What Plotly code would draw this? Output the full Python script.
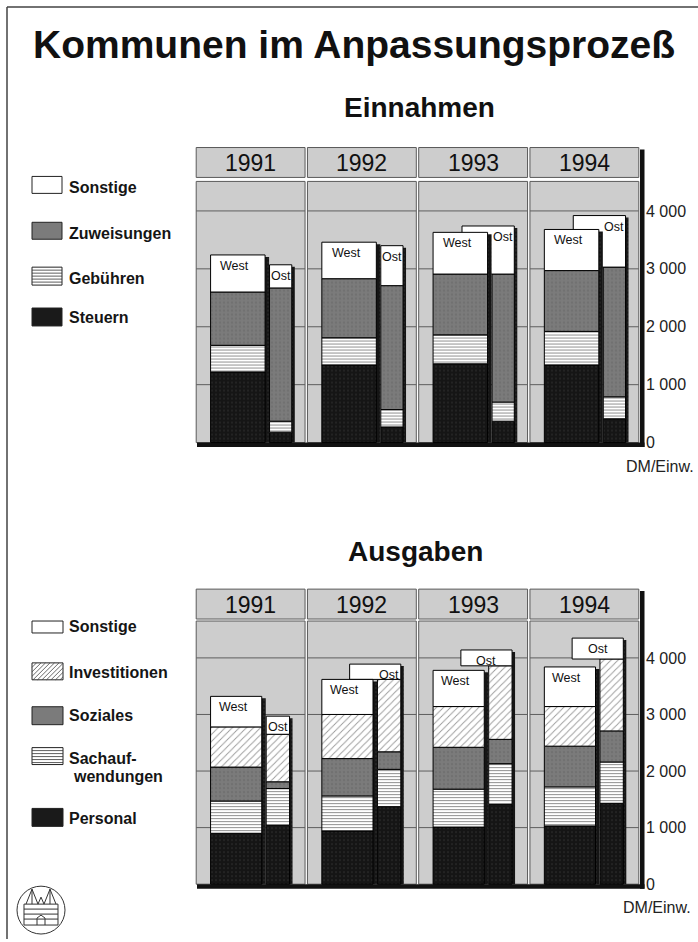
import plotly.graph_objects as go

W, H = 698, 942
FONT = "Liberation Sans, Arial, Helvetica, sans-serif"

# ---------------- data (DM je Einwohner) ----------------
years = ["1991", "1992", "1993", "1994"]
tick_vals = [0, 1000, 2000, 3000, 4000]
tick_text = ["0", "1 000", "2 000", "3 000", "4 000"]
unit_label = "DM/Einw."

# Einnahmen
ein_labels = ["Steuern", "Gebühren", "Zuweisungen", "Sonstige"]
ein_west_steuern = [1220, 1340, 1360, 1340]
ein_west_gebuehren = [460, 470, 500, 580]
ein_west_zuweisungen = [920, 1020, 1050, 1050]
ein_west_sonstige = [640, 630, 720, 710]
ein_ost_steuern = [180, 270, 370, 410]
ein_ost_gebuehren = [190, 300, 330, 380]
ein_ost_zuweisungen = [2300, 2140, 2210, 2240]
ein_ost_sonstige = [400, 690, 830, 890]

# Ausgaben
aus_labels = ["Personal", "Sachauf-\nwendungen", "Soziales", "Investitionen", "Sonstige"]
aus_west_personal = [900, 940, 1010, 1030]
aus_west_sachauf = [570, 620, 670, 690]
aus_west_soziales = [600, 660, 740, 720]
aus_west_invest = [710, 780, 720, 700]
aus_west_sonstige = [540, 620, 640, 700]
aus_ost_personal = [1040, 1370, 1410, 1430]
aus_ost_sachauf = [650, 660, 720, 730]
aus_ost_soziales = [120, 310, 430, 550]
aus_ost_invest = [840, 1280, 1300, 1270]
aus_ost_sonstige = [320, 270, 280, 370]

# ---------------- styles ----------------
PANEL = "#cdcdcd"
EDGE = "#5a5a5a"
GRID = "#5e5e5e"

STYLE = {
    "black": dict(color="#151515",
                  pattern=dict(shape=".", fgcolor="#3a3a3a", bgcolor="#151515", size=4, solidity=0.2)),
    "gray": dict(color="#7b7b7b",
                 pattern=dict(shape=".", fgcolor="#666666", bgcolor="#7b7b7b", size=4, solidity=0.3)),
    "lines": dict(color="#ffffff",
                  pattern=dict(shape="-", fgcolor="#222222", bgcolor="#ffffff", size=3, solidity=0.35)),
    "hatch": dict(color="#ffffff",
                  pattern=dict(shape="/", fgcolor="#333333", bgcolor="#ffffff", size=5, solidity=0.18)),
    "white": dict(color="#ffffff"),
}
ein_styles = ["black", "lines", "gray", "white"]
aus_styles = ["black", "lines", "gray", "hatch", "white"]

X0, PW = 195.0, 111.25  # pixel left of first panel, pixel width of a panel

fig = go.Figure()
shapes = []
annotations = []


def px(x):
    return x / W


def py(y):
    return 1 - y / H


def add_chart(g, west_comps, ost_comps, styles):
    xa, ya = g["xa"], g["ya"]
    n = len(years)
    zero, k = g["zero"], g["per1000"]

    def u(p):
        return p / k * 1000.0

    def dxp(p):
        return p / PW

    # panels, headers, grid lines
    for i in range(n):
        x0, x1 = i + dxp(1.2), i + 1 - dxp(1.2)
        shapes.append(dict(type="rect", xref=xa, yref=ya, x0=x0, x1=x1, y0=0,
                           y1=u(zero - g["panel_top"]), fillcolor=PANEL,
                           line=dict(color=EDGE, width=1), layer="below"))
        shapes.append(dict(type="rect", xref=xa, yref=ya, x0=x0, x1=x1,
                           y0=u(zero - g["header_bottom"]), y1=u(zero - g["header_top"]),
                           fillcolor=PANEL, line=dict(color=EDGE, width=1), layer="below"))
        for v in tick_vals[1:]:
            shapes.append(dict(type="line", xref=xa, yref=ya, x0=x0, x1=x1, y0=v, y1=v,
                               line=dict(color=GRID, width=1), layer="below"))
        annotations.append(dict(xref=xa, yref=ya, x=i + 0.5,
                                y=u(zero - (g["header_top"] + g["header_bottom"]) / 2 - 1),
                                text=years[i], showarrow=False,
                                font=dict(family=FONT, size=23, color="#111")))
    # black drop-shadow strips
    shapes.append(dict(type="rect", xref=xa, yref=ya, x0=4, x1=4 + dxp(4.5),
                       y0=u(-4.5), y1=u(zero - g["header_top"] - 2),
                       fillcolor="#111", line=dict(width=0), layer="below"))
    shapes.append(dict(type="rect", xref=xa, yref=ya, x0=dxp(2), x1=4 + dxp(4.5),
                       y0=u(-4.5), y1=0, fillcolor="#111", line=dict(width=0), layer="below"))

    def cumulate(comps):
        bases, acc = [], [0] * n
        for c in comps:
            bases.append(acc[:])
            acc = [a + b for a, b in zip(acc, c)]
        return bases, acc

    wb, wt = cumulate(west_comps)
    ob, ot = cumulate(ost_comps)
    wc, ww, oc, ow, wl = g["west_c"], g["west_w"], g["ost_c"], g["ost_w"], g["wide_left"]
    R = oc + ow / 2
    wide = [ot[i] > wt[i] for i in range(n)]

    def bar(xs, base, ys, width, style, line=True):
        st = STYLE[style]
        marker = dict(color=st["color"], opacity=1,
                      line=dict(color="#000", width=1 if line else 0))
        if "pattern" in st:
            marker["pattern"] = st["pattern"]
        fig.add_trace(go.Bar(x=xs, y=ys, base=base, width=width, marker=marker,
                             xaxis=xa, yaxis=ya, showlegend=False, hoverinfo="skip"))

    # Ost: shadow, then segments
    bar([i + oc + dxp(3) for i in range(n)], [0] * n, [t - u(2) for t in ot], ow, "black", line=False)
    for s, comps in enumerate(ost_comps):
        if s == len(ost_comps) - 1:
            xs = [i + ((wl + R) / 2 if wide[i] else oc) for i in range(n)]
            widths = [(R - wl) if wide[i] else ow for i in range(n)]
        else:
            xs = [i + oc for i in range(n)]
            widths = ow
        bar(xs, ob[s], comps, widths, styles[s])
    # West: shadow, then segments
    bar([i + wc + dxp(4) for i in range(n)], [0] * n, [t - u(2) for t in wt], ww, "black", line=False)
    for s, comps in enumerate(west_comps):
        bar([i + wc for i in range(n)], wb[s], comps, ww, styles[s])

    # region labels
    lab_font = dict(family=FONT, size=12.5, color="#111")
    for i in range(n):
        annotations.append(dict(xref=xa, yref=ya, x=i + wc - dxp(3), y=wt[i], yanchor="top",
                                yshift=-2, text="West", showarrow=False, font=lab_font))
        if wide[i] and (ot[i] - wt[i]) < u(20):
            xo = ((wc + ww / 2 + dxp(4)) + R) / 2
        elif wide[i]:
            xo = (wl + R) / 2
        else:
            xo = oc
        annotations.append(dict(xref=xa, yref=ya, x=i + xo, y=ot[i], yanchor="top",
                                yshift=-2, text="Ost", showarrow=False, font=lab_font))

    dom_y = [py(zero + 6), py(g["header_top"] - 3)]
    return dict(
        x=dict(domain=[px(190), px(645)], range=[(190 - X0) / PW, (645 - X0) / PW],
               visible=False),
        y=dict(domain=dom_y, range=[-u(6), u(zero - g["header_top"] + 3)], anchor=xa,
               side="right", tickvals=tick_vals, ticktext=tick_text, showgrid=False,
               zeroline=False, showline=False, ticks="", ticklen=0,
               tickfont=dict(family=FONT, size=16, color="#222")),
    )


upper = dict(xa="x", ya="y", zero=444, per1000=58.1, header_top=148, header_bottom=178,
             panel_top=182, west_c=0.385, west_w=0.49, ost_c=0.77, ost_w=0.20, wide_left=0.40)
lower = dict(xa="x2", ya="y2", zero=887, per1000=56.75, header_top=591, header_bottom=621,
             panel_top=623, west_c=0.37, west_w=0.46, ost_c=0.745, ost_w=0.21, wide_left=0.39)

ax1 = add_chart(upper,
                [ein_west_steuern, ein_west_gebuehren, ein_west_zuweisungen, ein_west_sonstige],
                [ein_ost_steuern, ein_ost_gebuehren, ein_ost_zuweisungen, ein_ost_sonstige],
                ein_styles)
ax2 = add_chart(lower,
                [aus_west_personal, aus_west_sachauf, aus_west_soziales, aus_west_invest, aus_west_sonstige],
                [aus_ost_personal, aus_ost_sachauf, aus_ost_soziales, aus_ost_invest, aus_ost_sonstige],
                aus_styles)
ax1["x"]["anchor"] = "y"
ax2["x"]["anchor"] = "y2"

# ---------------- legends (drawn swatches + real text) ----------------
def rect_px(x0, y0, x1, y1, fill):
    shapes.append(dict(type="rect", xref="paper", yref="paper", x0=px(x0), x1=px(x1),
                       y0=py(y1), y1=py(y0), fillcolor=fill, line=dict(color="#222", width=1)))


def path_px(segs, color="#222", width=1):
    d = " ".join("M%.5f,%.5f L%.5f,%.5f" % (px(a), py(b), px(c), py(e)) for a, b, c, e in segs)
    shapes.append(dict(type="path", xref="paper", yref="paper", path=d,
                       line=dict(color=color, width=width)))


def swatch(style, x0, y0, x1, y1):
    if style == "black":
        rect_px(x0, y0, x1, y1, "#1a1a1a")
    elif style == "gray":
        rect_px(x0, y0, x1, y1, "#7b7b7b")
    elif style == "white":
        rect_px(x0, y0, x1, y1, "#ffffff")
    elif style == "lines":
        rect_px(x0, y0, x1, y1, "#ffffff")
        segs = []
        yy = y0 + 3
        while yy < y1 - 1:
            segs.append((x0, yy, x1, yy))
            yy += 3
        path_px(segs, "#333", 0.8)
    elif style == "hatch":
        rect_px(x0, y0, x1, y1, "#ffffff")
        h = y1 - y0
        segs = []
        t = x0 - h
        while t < x1:
            sx, sy = t, y1
            ex, ey = t + h, y0
            if sx < x0:
                sy = y1 - (x0 - sx)
                sx = x0
            if ex > x1:
                ey = y0 + (ex - x1)
                ex = x1
            if ex > sx:
                segs.append((sx, sy, ex, ey))
            t += 4.5
        path_px(segs, "#444", 0.8)


LEG_FONT = dict(family=FONT, size=16, color="#151515")
ein_legend = [("white", (177, 194), 188), ("gray", (223, 240), 234),
              ("lines", (268, 286), 279), ("black", (309, 327), 319)]
ein_leg_names = ein_labels[::-1]
for (st, (a, b), ty), name in zip(ein_legend, ein_leg_names):
    swatch(st, 32, a, 62, b)
    annotations.append(dict(xref="paper", yref="paper", x=px(67), y=py(ty), xanchor="left",
                            yanchor="middle", text="<b>%s</b>" % name, showarrow=False,
                            font=LEG_FONT))

aus_legend = [("white", (623, 635), [628]), ("hatch", (665, 682), [675]),
              ("gray", (709, 727), [718]), ("lines", (750, 767), [761, 779]),
              ("black", (811, 829), [821])]
aus_leg_names = aus_labels[::-1]
for (st, (a, b), tys), name in zip(aus_legend, aus_leg_names):
    swatch(st, 32, a, 63, b)
    for j, (ty, part) in enumerate(zip(tys, name.split("\n"))):
        annotations.append(dict(xref="paper", yref="paper", x=px(67 + 4 * j), y=py(ty),
                                xanchor="left", yanchor="middle", text="<b>%s</b>" % part,
                                showarrow=False, font=LEG_FONT))

# ---------------- titles & units ----------------
annotations += [
    dict(xref="paper", yref="paper", x=px(31), y=py(45), xanchor="left", yanchor="middle",
         text="<b>Kommunen im Anpassungsprozeß</b>", showarrow=False,
         font=dict(family=FONT, size=39, color="#111")),
    dict(xref="paper", yref="paper", x=px(419), y=py(107.5), xanchor="center", yanchor="middle",
         text="<b>Einnahmen</b>", showarrow=False, font=dict(family=FONT, size=28, color="#111")),
    dict(xref="paper", yref="paper", x=px(415), y=py(553), xanchor="center", yanchor="middle",
         text="<b>Ausgaben</b>", showarrow=False, font=dict(family=FONT, size=28, color="#111")),
    dict(xref="paper", yref="paper", x=px(696), y=py(468), xanchor="right", yanchor="middle",
         text=unit_label, showarrow=False, font=dict(family=FONT, size=16, color="#222")),
    dict(xref="paper", yref="paper", x=px(693), y=py(910), xanchor="right", yanchor="middle",
         text=unit_label, showarrow=False, font=dict(family=FONT, size=16, color="#222")),
]

# frame
path_px([(7, 7, 698, 7), (7, 7, 7, 942)], "#444", 1.5)

# logo (circle with gate)
shapes.append(dict(type="circle", xref="paper", yref="paper", x0=px(17), x1=px(65),
                   y0=py(937), y1=py(889), line=dict(color="#333", width=1)))
path_px([(26, 907, 32, 892), (32, 892, 38, 907), (44, 907, 50, 892), (50, 892, 56, 907),
         (38, 907, 41, 900), (41, 900, 44, 907), (32, 892, 32, 907), (50, 892, 50, 907),
         (24, 907, 58, 907), (24, 907, 24, 928), (58, 907, 58, 928), (24, 928, 58, 928),
         (24, 912, 58, 912), (24, 917, 58, 917), (24, 922, 58, 922),
         (37, 928, 37, 921), (45, 928, 45, 921), (37, 921, 41, 918), (41, 918, 45, 921)],
        "#333", 1)

fig.update_layout(
    width=W, height=H, margin=dict(l=0, r=0, t=0, b=0),
    paper_bgcolor="white", plot_bgcolor="rgba(0,0,0,0)",
    barmode="overlay", showlegend=False,
    xaxis=ax1["x"], yaxis=ax1["y"], xaxis2=ax2["x"], yaxis2=ax2["y"],
    shapes=shapes, annotations=annotations,
)

fig.write_html("out.html", config={"displayModeBar": False},
               post_script="document.body.style.margin='0';document.body.style.overflow='hidden';")
